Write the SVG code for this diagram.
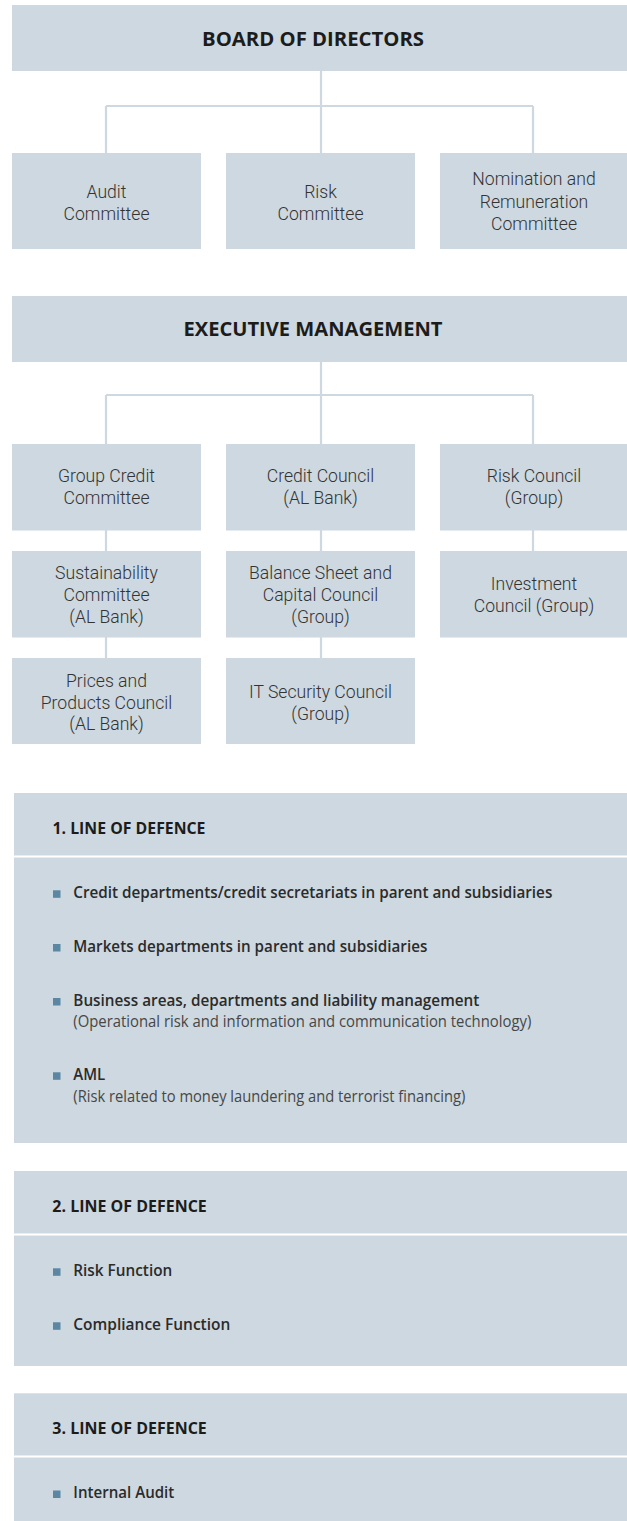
<svg xmlns="http://www.w3.org/2000/svg" width="627" height="1521" viewBox="0 0 627 1521">
  <style>
    .box { fill: #cdd8e0; }
    .link { stroke: #cdd8e0; stroke-width: 2.2; fill: none; }
    .title { font-family: "Open Sans", "Liberation Sans", sans-serif; font-weight: 700; font-size: 20px; fill: #1c1c1c; text-anchor: middle; }
    .node { font-family: Roboto, "Open Sans", "Liberation Sans", sans-serif; font-weight: 300; font-size: 17.6px; fill: #333333; text-anchor: middle; }
    .head { font-family: "Open Sans", "Liberation Sans", sans-serif; font-weight: 700; font-size: 15.5px; fill: #1c1c1c; }
    .item { font-family: "Open Sans", "Liberation Sans", sans-serif; font-weight: 600; font-size: 15.8px; fill: #2b2b2b; }
    .sub { font-family: "Open Sans", "Liberation Sans", sans-serif; font-weight: 400; font-size: 15.8px; fill: #474747; }
    .bullet { fill: #5b87a3; }
    .divider { fill: #ffffff; }
  </style>

  <!-- connectors -->
  <g id="connectors">
    <path class="link" d="M321 71 V153 M106 106 H533 M106 106 V153 M533 106 V153"/>
    <path class="link" d="M321 362 V444 M106 395 H533 M106 395 V444 M533 395 V444"/>
    <path class="link" d="M106 530 V551 M106 637 V658 M321 530 V551 M321 637 V658 M533 530 V551"/>
  </g>

  <!-- board level -->
  <g id="board">
    <rect class="box" x="12" y="5" width="615" height="66"/>
    <text class="title" x="313" y="45.5" textLength="222" lengthAdjust="spacingAndGlyphs">BOARD OF DIRECTORS</text>
  </g>
  <g id="audit-committee">
    <rect class="box" x="12" y="153" width="189" height="96"/>
    <text class="node" x="106.5" y="198">Audit</text>
    <text class="node" x="106.5" y="220">Committee</text>
  </g>
  <g id="risk-committee">
    <rect class="box" x="226" y="153" width="189" height="96"/>
    <text class="node" x="320.5" y="198">Risk</text>
    <text class="node" x="320.5" y="220">Committee</text>
  </g>
  <g id="nomination-committee">
    <rect class="box" x="440" y="153" width="187" height="96"/>
    <text class="node" x="534" y="185">Nomination and</text>
    <text class="node" x="534" y="208">Remuneration</text>
    <text class="node" x="534" y="230">Committee</text>
  </g>

  <!-- executive level -->
  <g id="executive">
    <rect class="box" x="12" y="296" width="615" height="66"/>
    <text class="title" x="313" y="336" textLength="259" lengthAdjust="spacingAndGlyphs">EXECUTIVE MANAGEMENT</text>
  </g>
  <g id="group-credit-committee">
    <rect class="box" x="12" y="444" width="189" height="86.5"/>
    <text class="node" x="106.5" y="482">Group Credit</text>
    <text class="node" x="106.5" y="504">Committee</text>
  </g>
  <g id="credit-council">
    <rect class="box" x="226" y="444" width="189" height="86.5"/>
    <text class="node" x="320.5" y="482">Credit Council</text>
    <text class="node" x="320.5" y="504">(AL Bank)</text>
  </g>
  <g id="risk-council">
    <rect class="box" x="440" y="444" width="187" height="86.5"/>
    <text class="node" x="534" y="482">Risk Council</text>
    <text class="node" x="534" y="504">(Group)</text>
  </g>
  <g id="sustainability-committee">
    <rect class="box" x="12" y="551" width="189" height="86.5"/>
    <text class="node" x="106.5" y="579">Sustainability</text>
    <text class="node" x="106.5" y="601">Committee</text>
    <text class="node" x="106.5" y="623">(AL Bank)</text>
  </g>
  <g id="balance-sheet-council">
    <rect class="box" x="226" y="551" width="189" height="86.5"/>
    <text class="node" x="320.5" y="579">Balance Sheet and</text>
    <text class="node" x="320.5" y="601">Capital Council</text>
    <text class="node" x="320.5" y="623">(Group)</text>
  </g>
  <g id="investment-council">
    <rect class="box" x="440" y="551" width="187" height="86.5"/>
    <text class="node" x="534" y="590">Investment</text>
    <text class="node" x="534" y="612">Council (Group)</text>
  </g>
  <g id="prices-products-council">
    <rect class="box" x="12" y="658" width="189" height="86"/>
    <text class="node" x="106.5" y="686.5">Prices and</text>
    <text class="node" x="106.5" y="708.5">Products Council</text>
    <text class="node" x="106.5" y="730">(AL Bank)</text>
  </g>
  <g id="it-security-council">
    <rect class="box" x="226" y="658" width="189" height="86"/>
    <text class="node" x="320.5" y="698">IT Security Council</text>
    <text class="node" x="320.5" y="720">(Group)</text>
  </g>

  <!-- lines of defence -->
  <g id="line-of-defence-1">
    <rect class="box" x="14" y="793" width="613" height="350"/>
    <rect class="divider" x="14" y="855.5" width="613" height="2"/>
    <text class="head" x="52.5" y="834" textLength="153" lengthAdjust="spacingAndGlyphs">1. LINE OF DEFENCE</text>
    <rect class="bullet" x="53" y="890.3" width="7.5" height="7.5"/>
    <text class="item" x="73.3" y="898" textLength="479" lengthAdjust="spacingAndGlyphs">Credit departments/credit secretariats in parent and subsidiaries</text>
    <rect class="bullet" x="53" y="944" width="7.5" height="7.5"/>
    <text class="item" x="73.3" y="951.7" textLength="354" lengthAdjust="spacingAndGlyphs">Markets departments in parent and subsidiaries</text>
    <rect class="bullet" x="53" y="998" width="7.5" height="7.5"/>
    <text class="item" x="73.3" y="1005.7" textLength="406" lengthAdjust="spacingAndGlyphs">Business areas, departments and liability management</text>
    <text class="sub" x="73.3" y="1026.7" textLength="458" lengthAdjust="spacingAndGlyphs">(Operational risk and information and communication technology)</text>
    <rect class="bullet" x="53" y="1072.3" width="7.5" height="7.5"/>
    <text class="item" x="73.3" y="1080" textLength="32" lengthAdjust="spacingAndGlyphs">AML</text>
    <text class="sub" x="73.3" y="1101.7" textLength="392" lengthAdjust="spacingAndGlyphs">(Risk related to money laundering and terrorist financing)</text>
  </g>
  <g id="line-of-defence-2">
    <rect class="box" x="14" y="1171" width="613" height="195"/>
    <rect class="divider" x="14" y="1233.5" width="613" height="2"/>
    <text class="head" x="52.3" y="1212.3" textLength="154.5" lengthAdjust="spacingAndGlyphs">2. LINE OF DEFENCE</text>
    <rect class="bullet" x="53" y="1268.3" width="7.5" height="7.5"/>
    <text class="item" x="73.3" y="1276" textLength="99" lengthAdjust="spacingAndGlyphs">Risk Function</text>
    <rect class="bullet" x="53" y="1322.3" width="7.5" height="7.5"/>
    <text class="item" x="73.3" y="1330" textLength="157" lengthAdjust="spacingAndGlyphs">Compliance Function</text>
  </g>
  <g id="line-of-defence-3">
    <rect class="box" x="14" y="1393.3" width="613" height="127.7"/>
    <rect class="divider" x="14" y="1455.5" width="613" height="2"/>
    <text class="head" x="52.3" y="1434" textLength="154.5" lengthAdjust="spacingAndGlyphs">3. LINE OF DEFENCE</text>
    <rect class="bullet" x="53" y="1490.5" width="7.5" height="7.5"/>
    <text class="item" x="73.3" y="1498" textLength="101" lengthAdjust="spacingAndGlyphs">Internal Audit</text>
  </g>
</svg>
